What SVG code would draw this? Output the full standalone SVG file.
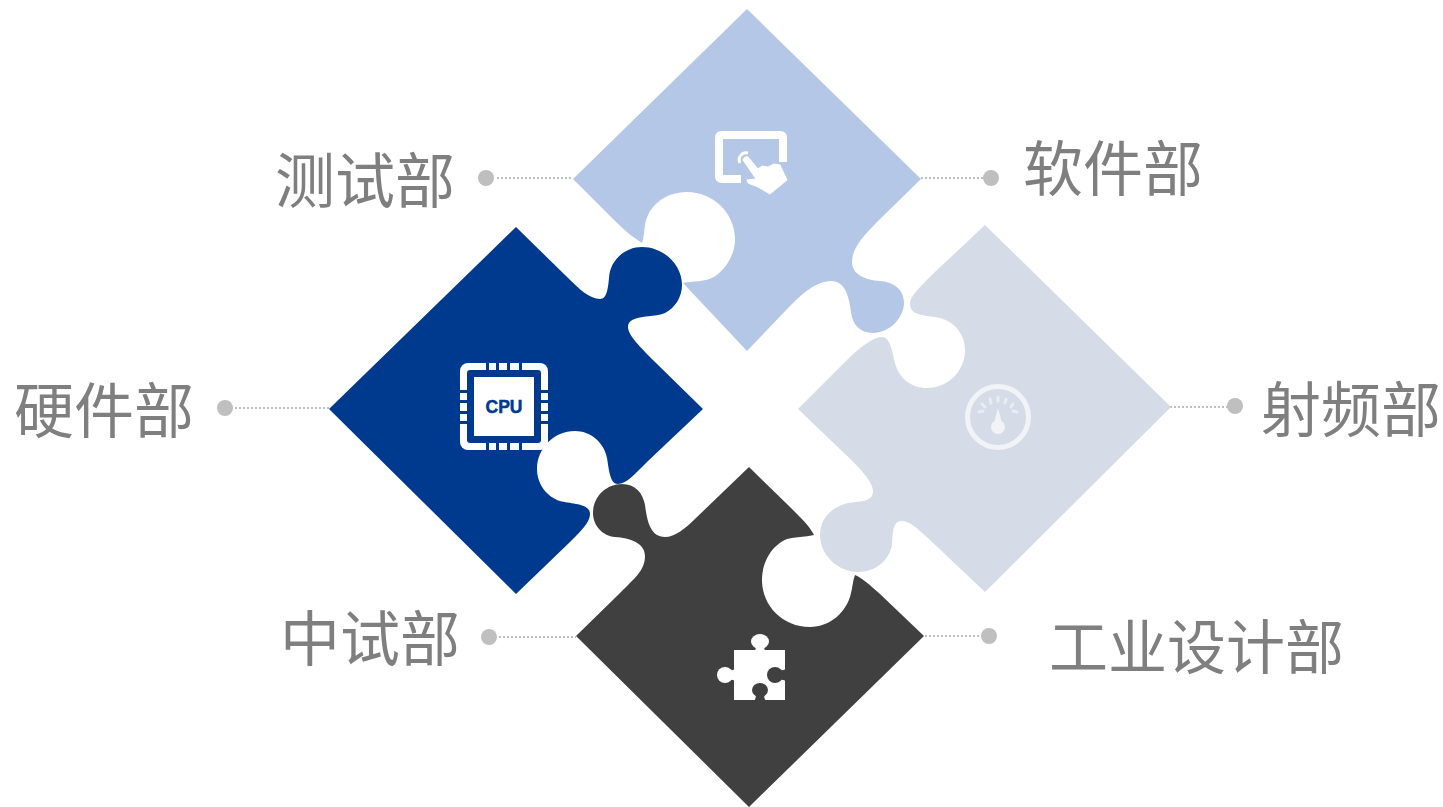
<svg xmlns="http://www.w3.org/2000/svg" width="1443" height="807" viewBox="0 0 1443 807">
<style>
.lbl{font-family:"Noto Sans CJK SC","Liberation Sans",sans-serif;font-size:60px;fill:#7f7f7f}
.dot{fill:#bfbfbf}
.conn{stroke:#bfbfbf;stroke-width:2;stroke-dasharray:2 2;fill:none}
.w{fill:#fff}
</style>
<rect width="1443" height="807" fill="#fff"/>
<g id="connectors">
<line class="conn" x1="497" y1="178" x2="573" y2="178"/>
<line class="conn" x1="921" y1="178" x2="983" y2="178"/>
<line class="conn" x1="235" y1="408" x2="329" y2="408"/>
<line class="conn" x1="1170" y1="407" x2="1228" y2="407"/>
<line class="conn" x1="499" y1="637" x2="576" y2="637"/>
<line class="conn" x1="925" y1="636" x2="981" y2="636"/>
</g>
<g id="node-software">
<path fill="#b4c7e7" d="M747 9L921 179L878 221C862 237 852 249 852 262C852 275 866 280 880 281C892 282 904 288 904 303C904 318 889 333 873 333C860 333 852 324 851 312C849 296 845 281 831 281C818 281 806 290 790 306L747 351L683 283C692 281 706 282 714 277C727 268 735 254 735 239C735 213 713 192 687 192C665 192 648 206 645 225C644 232 644 238 642 243C634 238 625 231 615 221L573 179Z"/>
<path fill="none" stroke="#fff" stroke-width="8" d="M741 179H722Q719 179 719 176V138Q719 135 722 135H780Q783 135 783 138V162"/>
<path class="w" stroke="#fff" stroke-width="1" stroke-linejoin="round" d="M743 160Q744 156 748 157L758 169L762 166L768 167L774 164L780 165L787 180L770 194L758 187L748 183L747 180L756 179Z"/>
<path fill="none" stroke="#fff" stroke-width="3" d="M740 163A7 7 0 0 1 748 153"/>
<circle class="dot" cx="991" cy="178" r="8"/>
<text class="lbl" x="1023" y="191">软件部</text>
</g>
<g id="node-test">
<circle class="dot" cx="486" cy="178" r="8"/>
<text class="lbl" x="275" y="203">测试部</text>
</g>
<g id="node-hardware">
<path fill="#003a8f" d="M516 227L565 275C580 290 590 299 600 299C607 299 608 288 609 278C610 260 625 247 642 247C663 247 682 264 682 285C682 297 675 308 665 313C655 318 628 314 628 327C628 335 640 347 655 362L703 409L648 461C635 474 626 484 618 484C610 484 609 470 607 458C604 442 590 431 575 431C554 431 537 448 537 469C537 484 547 497 560 501C570 504 590 503 590 514C590 522 582 530 570 542L516 594L329 409Z"/>
<rect class="w" x="460" y="363" width="88" height="87" rx="8"/>
<rect x="467" y="370" width="74" height="73" rx="3" fill="#003a8f"/>
<rect class="w" x="474" y="377" width="60" height="59"/>
<g fill="#003a8f">
<rect x="486" y="363" width="3" height="8"/><rect x="496" y="363" width="3" height="8"/><rect x="507" y="363" width="3" height="8"/><rect x="519" y="363" width="3" height="8"/>
<rect x="486" y="442" width="3" height="8"/><rect x="496" y="442" width="3" height="8"/><rect x="507" y="442" width="3" height="8"/><rect x="519" y="442" width="3" height="8"/>
<rect x="460" y="390" width="8" height="3"/><rect x="460" y="400" width="8" height="3"/><rect x="460" y="411" width="8" height="3"/><rect x="460" y="421" width="8" height="3"/>
<rect x="540" y="390" width="8" height="3"/><rect x="540" y="400" width="8" height="3"/><rect x="540" y="411" width="8" height="3"/><rect x="540" y="421" width="8" height="3"/>
</g>
<text x="504" y="413" text-anchor="middle" font-family="'Liberation Sans',Arial,sans-serif" font-weight="700" font-size="17.5" fill="#003a8f" stroke="#003a8f" stroke-width=".5">CPU</text>
<circle class="dot" cx="225" cy="408" r="8"/>
<text class="lbl" x="14" y="433">硬件部</text>
</g>
<g id="node-rf">
<path fill="#d6dce7" d="M985 225L1171 407L985 592L930 540C915 526 908 520 900 521C892 523 893 535 892 545C889 561 875 572 858 572C838 572 820 555 820 535C820 518 832 507 848 503C858 501 873 503 873 491C873 482 860 468 845 454L798 409L845 362C860 347 873 337 882 337C890 337 892 350 895 363C899 378 911 388 927 388C948 388 965 371 965 350C965 335 955 322 940 318C928 315 910 317 910 304C910 296 920 287 935 272Z"/>
<circle cx="998" cy="417" r="30.500" fill="none" stroke="#f1f3f7" stroke-width="5"/>
<g stroke="#e9ecf2" stroke-width="3" stroke-linecap="round">
<line x1="979" y1="412" x2="983" y2="411"/><line x1="982" y1="404" x2="985" y2="407"/><line x1="990" y1="399" x2="991" y2="403"/><line x1="998" y1="397" x2="998" y2="401"/><line x1="1006" y1="399" x2="1005" y2="403"/><line x1="1013" y1="404" x2="1011" y2="407"/><line x1="1017" y1="412" x2="1013" y2="411"/>
</g>
<path fill="#f1f3f7" d="M998 408L1001.500 421A7 7 0 1 1 994.500 421Z"/>
<circle class="dot" cx="1235" cy="406" r="8"/>
<text class="lbl" x="1261" y="432">射频部</text>
</g>
<g id="node-midtest">
<path fill="#404040" d="M749 467L790 507C800 517 809 525 814 535C805 537 795 537 787 539C772 545 762 562 762 580C762 606 783 627 810 627C830 627 847 612 851 593C853 585 853 580 855 575C862 578 870 585 880 594L924 636L749 807L576 636L620 593C635 578 645 570 645 556C645 543 630 538 615 537C603 536 593 526 593 513C593 497 606 484 622 484C635 484 643 493 645 505C647 520 650 537 665 537C675 537 685 529 697 517Z"/>
<rect class="w" x="734" y="650" width="51" height="50"/>
<ellipse class="w" cx="760" cy="641.500" rx="9" ry="7.500"/>
<path class="w" d="M755 645H765Q763 649 766 651H754Q757 649 755 645Z"/>
<circle class="w" cx="725" cy="675" r="8"/>
<path class="w" d="M729 670Q732 671 735 669V681Q732 679 729 680Z"/>
<circle cx="775" cy="675" r="8" fill="#404040"/>
<path fill="#404040" d="M779 670Q782 671 786 669V681Q782 679 779 680Z"/>
<ellipse cx="760" cy="690" rx="8" ry="7" fill="#404040"/>
<path fill="#404040" d="M755 694H765Q763 697 766 701H754Q757 697 755 694Z"/>
<circle class="dot" cx="489" cy="637" r="8"/>
<text class="lbl" x="280" y="661">中试部</text>
</g>
<g id="node-design">
<circle class="dot" cx="989" cy="636" r="8"/>
<text class="lbl" x="1049" y="669" style="font-size:59px">工业设计部</text>
</g>
</svg>
